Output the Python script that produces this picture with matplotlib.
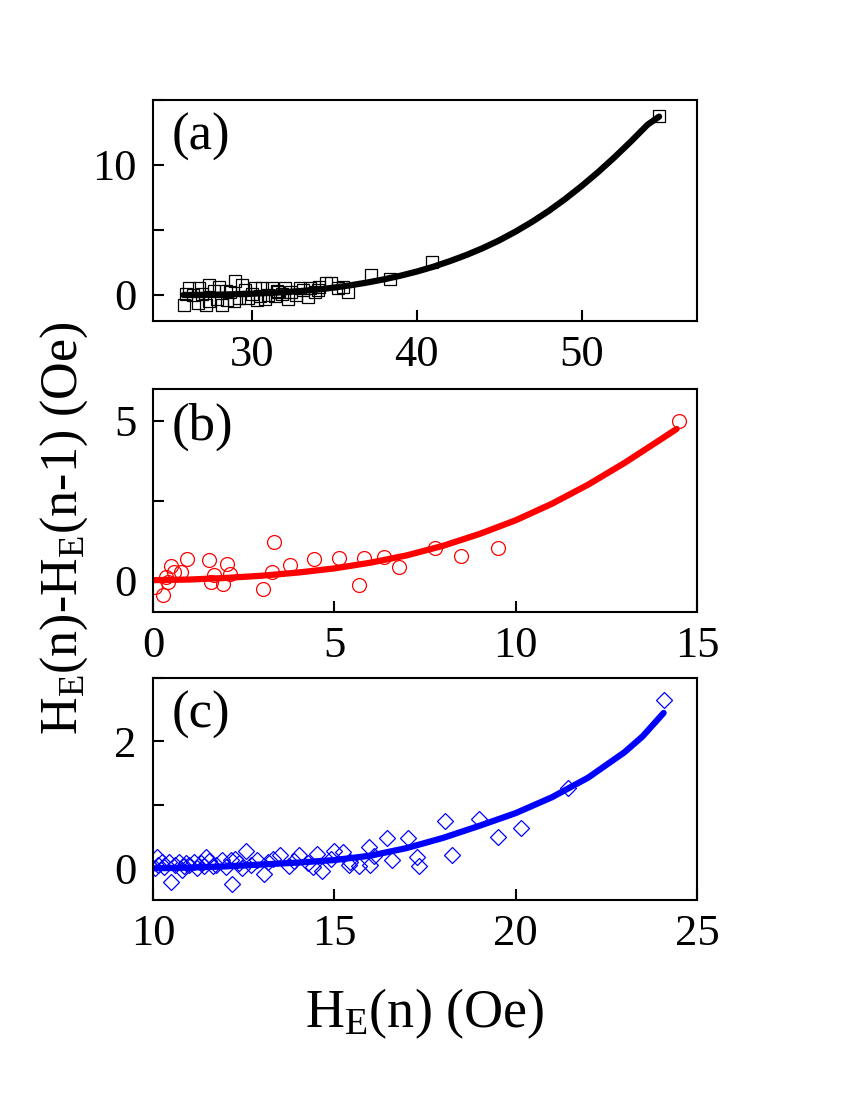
import matplotlib.pyplot as plt
from matplotlib.ticker import MultipleLocator

plt.rcParams['font.family'] = ['Liberation Serif', 'DejaVu Serif']
plt.rcParams['mathtext.fontset'] = 'custom'
plt.rcParams['mathtext.rm'] = 'Liberation Serif'
plt.rcParams['mathtext.default'] = 'regular'

# panel (a): squares + fitted curve
a_x = [25.9, 26.2, 26.7, 26.8, 27.2, 27.4, 27.4, 27.7, 28.0, 28.2, 28.5, 28.7, 29.0,
       29.2, 29.4, 29.75, 30.0, 30.2, 30.3, 30.6, 30.8, 31.0, 31.2, 31.4, 31.6, 31.8,
       32.0, 32.4, 32.7, 32.9, 33.1, 33.4, 33.5, 33.8, 34.0, 34.1, 34.5, 34.8, 35.2,
       35.5, 35.8, 37.2, 38.4, 40.9, 54.7,
       26.4, 27.0, 27.9, 28.4, 29.6, 30.5, 31.5, 32.2, 26.0, 28.9]
a_y = [-0.78, 0.52, -0.64, 0.57, -0.78, 0.78, -0.5, 0.3, 0.65, -0.78, -0.4, 0.2, 1.04,
       -0.2, 0.78, -0.26, 0.1, 0.52, -0.4, 0.5, -0.3, 0.0, 0.5, -0.1, 0.26, 0.1,
       0.5, 0.26, 0.0, 0.5, 0.41, -0.13, 0.5, 0.2, 0.4, 0.59, 0.9, 0.92, 0.5,
       0.64, 0.26, 1.53, 1.2, 2.5, 13.8,
       0.0, 0.1, -0.3, 0.3, 0.4, -0.1, 0.3, -0.3, 0.1, -0.5]
a_fit_x = [25.85, 27, 28, 29, 30, 31, 32, 33, 34, 35, 36, 37, 38, 39, 40, 41, 42, 43,
           44, 45, 46, 47, 48, 49, 50, 51, 52, 53, 54, 54.7]
a_fit_y = [0.0, 0.01, 0.03, 0.06, 0.1, 0.15, 0.22, 0.31, 0.42, 0.57, 0.75, 0.96, 1.2,
           1.48, 1.8, 2.17, 2.6, 3.07, 3.6, 4.2, 4.88, 5.63, 6.46, 7.38, 8.38, 9.45,
           10.6, 11.82, 13.1, 13.72]

# panel (b): circles + fitted curve
b_x = [14.5, 9.52, 8.5, 7.78, 6.77, 6.38, 5.83, 5.68, 5.13, 4.43, 3.77, 3.34, 3.29,
       3.03, 2.13, 2.04, 1.94, 1.68, 1.6, 1.54, 0.93, 0.78, 0.59, 0.49, 0.35, 0.4,
       0.28, 0.06]
b_y = [4.99, 1.0, 0.75, 1.0, 0.41, 0.72, 0.71, -0.15, 0.71, 0.67, 0.49, 1.21, 0.27,
       -0.27, 0.2, 0.51, -0.12, 0.15, -0.06, 0.62, 0.67, 0.25, 0.25, 0.46, 0.09, -0.06,
       -0.48, -0.22]
b_fit_x = [0, 1, 2, 3, 4, 5, 6, 7, 8, 9, 10, 11, 12, 13, 14, 14.44]
b_fit_y = [0.0, 0.02, 0.07, 0.14, 0.24, 0.37, 0.55, 0.78, 1.08, 1.45, 1.88, 2.4, 3.0,
           3.68, 4.42, 4.75]

# panel (c): diamonds + fitted curve
c_x = [24.08, 21.43, 20.15, 19.5, 18.98, 18.25, 18.06, 17.33, 17.28, 17.04, 16.6, 16.46,
       15.97, 15.95, 15.68, 15.44, 15.24, 15.0, 14.66, 14.51, 14.27, 14.03, 13.74, 13.5,
       13.17, 13.06, 12.86, 12.57, 12.38, 12.18, 12.14, 11.89, 11.65, 11.46, 11.31, 11.12,
       10.92, 10.73, 10.49, 10.44, 10.24, 10.1, 10.05,
       10.3, 10.6, 10.8, 11.0, 11.2, 11.4, 11.55, 11.75, 12.0, 12.25, 12.45, 12.7, 13.3,
       13.9, 14.4, 14.9, 15.4, 16.1, 10.15, 10.85]
c_y = [2.66, 1.26, 0.64, 0.5, 0.78, 0.21, 0.75, 0.03, 0.18, 0.47, 0.13, 0.48,
       0.05, 0.33, 0.03, 0.1, 0.26, 0.27, -0.05, 0.23, 0.08, 0.21, 0.03, 0.21,
       0.1, -0.09, 0.13, 0.27, 0.08, -0.25, 0.13, 0.13, 0.03, 0.18, 0.08, 0.1,
       0.08, 0.1, -0.21, 0.1, 0.1, 0.18, 0.0,
       0.02, 0.05, -0.02, 0.06, 0.0, 0.04, 0.12, 0.06, 0.02, 0.15, 0.0, 0.05, 0.14,
       0.12, 0.02, 0.15, 0.05, 0.2, 0.06, 0.04]
c_fit_x = [10, 11, 12, 13, 14, 15, 16, 17, 18, 19, 20, 21, 22, 23, 23.5, 24.08]
c_fit_y = [0.0, 0.01, 0.03, 0.06, 0.09, 0.13, 0.2, 0.32, 0.48, 0.67, 0.87, 1.12,
           1.43, 1.83, 2.08, 2.45]

panels = [
    dict(x=a_x, y=a_y, fx=a_fit_x, fy=a_fit_y, color='black', marker='s', ms=9,
         xlim=(24, 57), ylim=(-2, 15), xmaj=10, ymaj=10, ymin=5, label='(a)',
         rect=[0.18, 0.7082, 0.64, 0.2009]),
    dict(x=b_x, y=b_y, fx=b_fit_x, fy=b_fit_y, color='#ff0000', marker='o', ms=10,
         xlim=(0, 15), ylim=(-1, 6), xmaj=5, ymaj=5, ymin=2.5, label='(b)',
         rect=[0.18, 0.4436, 0.64, 0.2027]),
    dict(x=c_x, y=c_y, fx=c_fit_x, fy=c_fit_y, color='#0000ff', marker='D', ms=8,
         xlim=(10, 25), ylim=(-0.5, 3), xmaj=5, ymaj=2, ymin=1, label='(c)',
         rect=[0.18, 0.1818, 0.64, 0.2018]),
]

fig = plt.figure(figsize=(8.5, 11), dpi=100)

for p in panels:
    ax = fig.add_axes(p['rect'])
    ax.plot(p['x'], p['y'], linestyle='none', marker=p['marker'], ms=p['ms'],
            mfc='none', mec=p['color'], mew=0.9)
    ax.plot(p['fx'], p['fy'], color=p['color'], lw=4.5, solid_capstyle='round',
            solid_joinstyle='round')
    ax.set_xlim(p['xlim'])
    ax.set_ylim(p['ylim'])
    ax.xaxis.set_major_locator(MultipleLocator(p['xmaj']))
    ax.yaxis.set_major_locator(MultipleLocator(p['ymaj']))
    ax.yaxis.set_minor_locator(MultipleLocator(p['ymin']))
    ax.tick_params(which='both', direction='in', width=1.5, length=8, labelsize=32,
                   top=False, right=False)
    ax.tick_params(axis='x', pad=10)
    ax.tick_params(axis='y', pad=12)
    for s in ax.spines.values():
        s.set_linewidth(1.5)
    ax.text(0.035, 0.94, p['label'], transform=ax.transAxes, fontsize=38,
            ha='left', va='top')

fig.text(0.075, 0.52, r'H$_{E}$(n)-H$_{E}$(n-1) (Oe)', rotation=90, fontsize=37.5,
         ha='center', va='center')
fig.text(0.5, 0.078, r'H$_{E}$(n) (Oe)', fontsize=39, ha='center', va='center')

fig.savefig('out.png', dpi=100)
